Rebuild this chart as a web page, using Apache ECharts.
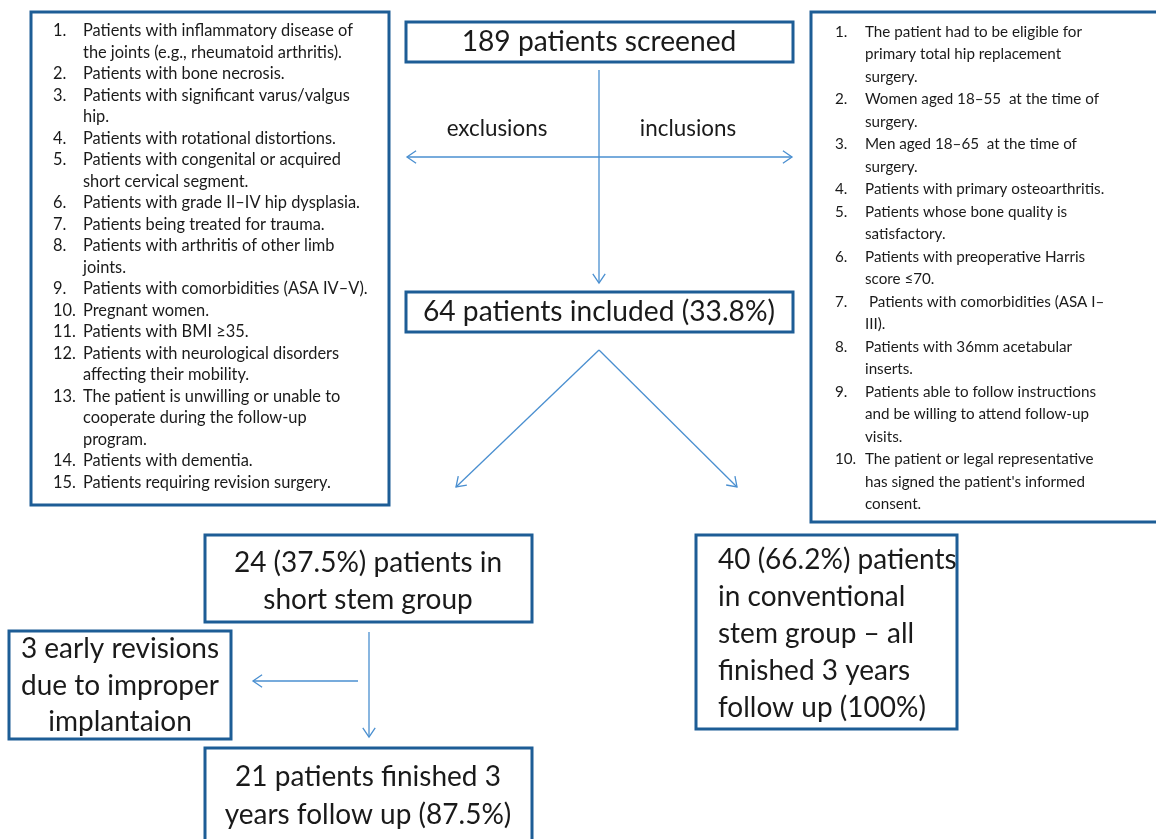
<!DOCTYPE html>
<html><head><meta charset="utf-8">
<script src="https://cdn.jsdelivr.net/npm/echarts@6/dist/echarts.min.js"></script>
<style>html,body{margin:0;padding:0;background:#fff}#c{width:1156px;height:839px}</style>
</head><body><div id="c"></div>
<script>
const exclusions = [
  ["Patients with inflammatory disease of", "the joints (e.g., rheumatoid arthritis)."],
  ["Patients with bone necrosis."],
  ["Patients with significant varus/valgus", "hip."],
  ["Patients with rotational distortions."],
  ["Patients with congenital or acquired", "short cervical segment."],
  ["Patients with grade II\u2013IV hip dysplasia."],
  ["Patients being treated for trauma."],
  ["Patients with arthritis of other limb", "joints."],
  ["Patients with comorbidities (ASA IV\u2013V)."],
  ["Pregnant women."],
  ["Patients with BMI \u226535."],
  ["Patients with neurological disorders", "affecting their mobility."],
  ["The patient is unwilling or unable to", "cooperate during the follow-up", "program."],
  ["Patients with dementia."],
  ["Patients requiring revision surgery."]
];
const inclusions = [
  ["The patient had to be eligible for", "primary total hip replacement", "surgery."],
  ["Women aged 18\u201355  at the time of", "surgery."],
  ["Men aged 18\u201365  at the time of", "surgery."],
  ["Patients with primary osteoarthritis."],
  ["Patients whose bone quality is", "satisfactory."],
  ["Patients with preoperative Harris", "score \u226470."],
  [" Patients with comorbidities (ASA I\u2013", "III)."],
  ["Patients with 36mm acetabular", "inserts."],
  ["Patients able to follow instructions", "and be willing to attend follow-up", "visits."],
  ["The patient or legal representative", "has signed the patient's informed", "consent."]
];
const screenedLabel = ["189 patients screened"];
const includedLabel = ["64 patients included (33.8%)"];
const shortStemLabel = ["24 (37.5%) patients in", "short stem group"];
const revisionLabel = ["3 early revisions", "due to improper", "implantaion"];
const finishedLabel = ["21 patients finished 3", "years follow up (87.5%)"];
const conventionalLabel = ["40 (66.2%) patients", "in conventional", "stem group \u2013 all", "finished 3 years", "follow up (100%)"];
const branchLabels = ["exclusions", "inclusions"];

const FONT = 'Lato, "Open Sans", sans-serif';
const BORDER = '#1d5d96';
const ARROW = '#4a8fd0';
const TXT = '#1a1a1a';
const g = [];

function box(x, y, w, h) {
  g.push({type: 'rect', shape: {x: x, y: y, width: w, height: h},
    style: {fill: '#fff', stroke: BORDER, lineWidth: 3}});
}
function lines(arr, x, y0, dy, size, align) {
  arr.forEach((t, i) => g.push({type: 'text', x: x, y: y0 + i * dy,
    style: {text: t, font: size + 'px ' + FONT, fill: TXT, align: align || 'center', verticalAlign: 'middle'}}));
}
function arrow(x1, y1, x2, y2, both) {
  g.push({type: 'line', shape: {x1: x1, y1: y1, x2: x2, y2: y2}, style: {stroke: ARROW, lineWidth: 1.3}});
  const head = (ax, ay, bx, by) => {
    const a = Math.atan2(by - ay, bx - ax), L = 11, s = 0.6;
    g.push({type: 'polyline', shape: {points: [
      [bx - L * Math.cos(a - s), by - L * Math.sin(a - s)], [bx, by],
      [bx - L * Math.cos(a + s), by - L * Math.sin(a + s)]]},
      style: {stroke: ARROW, lineWidth: 1.3, fill: null}});
  };
  head(x1, y1, x2, y2);
  if (both) head(x2, y2, x1, y1);
}
function list(items, xNum, xText, y0, dy, size) {
  let k = 0;
  items.forEach((it, i) => {
    g.push({type: 'text', x: xNum, y: y0 + k * dy,
      style: {text: (i + 1) + '.', font: size + 'px ' + FONT, fill: TXT, align: 'left', verticalAlign: 'middle'}});
    it.forEach(t => {
      g.push({type: 'text', x: xText, y: y0 + k * dy,
        style: {text: t, font: size + 'px ' + FONT, fill: TXT, align: 'left', verticalAlign: 'middle'}});
      k++;
    });
  });
}

// exclusion & inclusion boxes
box(31, 12, 358, 493);
list(exclusions, 53, 83, 31, 21.5, 16.4);
box(811, 12, 360, 510);
list(inclusions, 835, 865, 32, 22.5, 15.2);

// central boxes
box(406, 22, 387, 40);
lines(screenedLabel, 599, 42, 37, 28.2);
box(406, 292, 387, 40);
lines(includedLabel, 599, 312, 37, 28.2);

// cross arrows
arrow(599, 70, 599, 283);
arrow(407, 157, 792, 157, true);
lines([branchLabels[0]], 497, 129, 0, 22.4);
lines([branchLabels[1]], 688, 129, 0, 22.4);

// split arrows
arrow(599, 350, 456, 487);
arrow(599, 350, 737, 487);

// group boxes
box(205, 535, 327, 87);
lines(shortStemLabel, 368, 563, 37, 28);
box(696, 535, 261, 194);
lines(conventionalLabel, 718, 560, 37, 28, 'left');
box(9, 631, 222, 108);
lines(revisionLabel, 120, 649, 36.5, 28);
box(205, 748, 327, 110);
lines(finishedLabel, 368, 777, 38, 28);

arrow(369, 632, 369, 737);
arrow(358, 681, 253, 681);

const chart = echarts.init(document.getElementById('c'), null, {renderer: 'canvas'});
chart.setOption({backgroundColor: '#fff', animation: false, graphic: {elements: g}});
</script></body></html>
